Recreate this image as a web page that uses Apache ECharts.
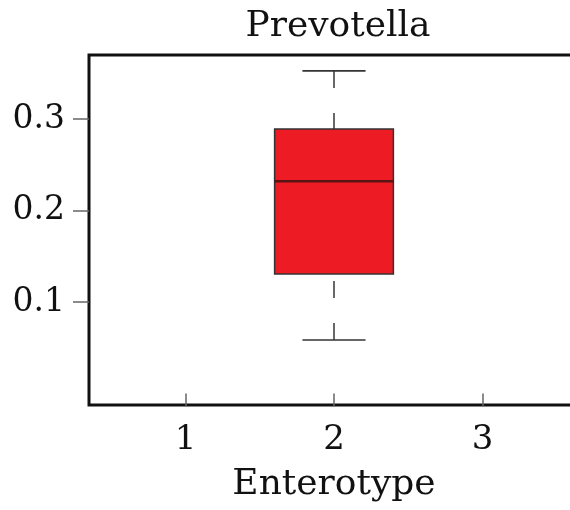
<!DOCTYPE html>
<html>
<head>
<meta charset="utf-8">
<script src="https://cdn.jsdelivr.net/npm/echarts@6/dist/echarts.min.js"></script>
<style>html,body{margin:0;padding:0;background:#fff}#c{width:570px;height:510px}</style>
</head>
<body>
<div id="c"></div>
<script>
var titleText = 'Prevotella';
var xAxisName = 'Enterotype';
var categories = [1, 2, 3];
var categoryLabels = ['1', '2', '3'];
var yTicks = [0.1, 0.2, 0.3];
var yTickLabels = ['0.1', '0.2', '0.3'];
// box stats for enterotype 2: [x, lowerWhisker, Q1, median, Q3, upperWhisker]
var boxCategory = [2];
var lowerWhisker = [0.0585];
var q1 = [0.1306];
var median = [0.232];
var q3 = [0.289];
var upperWhisker = [0.3525];

var boxData = boxCategory.map(function (c, i) {
  return [c, lowerWhisker[i], q1[i], median[i], q3[i], upperWhisker[i]];
});

var chart = echarts.init(document.getElementById('c'), null, {renderer: 'canvas'});
var font = 'DejaVu Serif';

chart.setOption({
  animation: false,
  title: {
    text: titleText,
    left: 333,
    top: 4,
    textAlign: 'center',
    textStyle: {fontFamily: font, fontSize: 36, fontWeight: 'normal', color: '#111'}
  },
  grid: {
    left: 89, top: 55, width: 490, bottom: 105,
    outerBoundsMode: 'none', containLabel: false,
    show: true, borderColor: '#111', borderWidth: 3, backgroundColor: '#fff'
  },
  xAxis: {
    type: 'value', min: 0.35, max: 3.65,
    name: xAxisName, nameLocation: 'middle', nameGap: 62,
    nameTextStyle: {fontFamily: font, fontSize: 36, color: '#111'},
    splitLine: {show: false},
    axisLine: {show: false},
    axisTick: {show: true, customValues: categories, length: 13, lineStyle: {color: '#666', width: 1.5}},
    axisLabel: {
      customValues: categories, margin: 18,
      fontFamily: font, fontSize: 34, color: '#111',
      formatter: function (v) { var i = categories.indexOf(v); return i >= 0 ? categoryLabels[i] : ''; }
    }
  },
  yAxis: {
    type: 'value', min: -0.0126, max: 0.3699,
    splitLine: {show: false},
    axisLine: {show: false},
    axisTick: {show: true, customValues: yTicks, length: 16, lineStyle: {color: '#666', width: 1.5}},
    axisLabel: {
      customValues: yTicks, margin: 24,
      fontFamily: font, fontSize: 33, color: '#111',
      formatter: function (v) {
        for (var i = 0; i < yTicks.length; i++) { if (Math.abs(yTicks[i] - v) < 1e-9) return yTickLabels[i]; }
        return '';
      }
    }
  },
  series: [{
    type: 'custom',
    data: boxData,
    encode: {x: 0, y: [1, 2, 3, 4, 5]},
    renderItem: function (params, api) {
      var x = api.value(0);
      var pLow = api.coord([x, api.value(1)]);
      var pQ1 = api.coord([x, api.value(2)]);
      var pMed = api.coord([x, api.value(3)]);
      var pQ3 = api.coord([x, api.value(4)]);
      var pHigh = api.coord([x, api.value(5)]);
      var halfBox = api.size([0.4, 0])[0];
      var halfCap = api.size([0.2125, 0])[0];
      var cx = pMed[0];
      var whiskerStyle = {stroke: '#444', lineWidth: 1.6, lineDash: [17, 25]};
      var solid = {stroke: '#333', lineWidth: 1.6};
      return {
        type: 'group',
        children: [
          {type: 'line', shape: {x1: cx, y1: pHigh[1], x2: cx, y2: pQ3[1]}, style: whiskerStyle},
          {type: 'line', shape: {x1: cx, y1: pLow[1], x2: cx, y2: pQ1[1]}, style: whiskerStyle},
          {type: 'line', shape: {x1: cx - halfCap, y1: pHigh[1], x2: cx + halfCap, y2: pHigh[1]}, style: solid},
          {type: 'line', shape: {x1: cx - halfCap, y1: pLow[1], x2: cx + halfCap, y2: pLow[1]}, style: solid},
          {type: 'rect', shape: {x: cx - halfBox, y: pQ3[1], width: halfBox * 2, height: pQ1[1] - pQ3[1]},
            style: {fill: '#ED1C24', stroke: '#333', lineWidth: 1.5}},
          {type: 'line', shape: {x1: cx - halfBox, y1: pMed[1], x2: cx + halfBox, y2: pMed[1]},
            style: {stroke: '#5a1414', lineWidth: 2.5}}
        ]
      };
    }
  }]
});
</script>
</body>
</html>
